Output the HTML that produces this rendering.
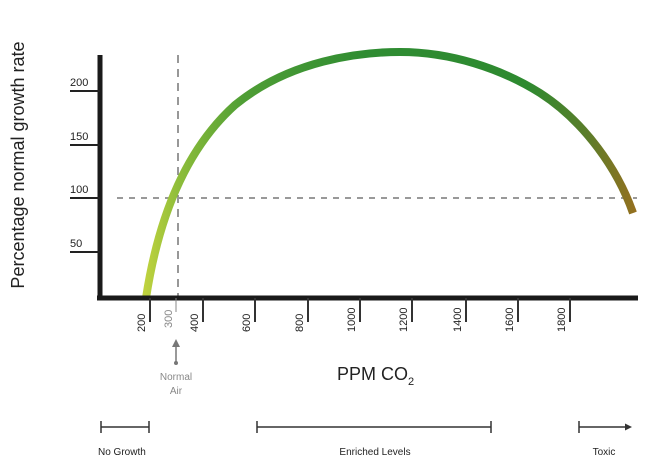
<!DOCTYPE html>
<html><head><style>
html,body{margin:0;padding:0;background:#fff;}
svg{display:block;font-family:"Liberation Sans",sans-serif;}
</style></head><body>
<svg width="667" height="462" viewBox="0 0 667 462">
<defs>
<linearGradient id="g" x1="145" y1="0" x2="635" y2="0" gradientUnits="userSpaceOnUse">
<stop offset="0" stop-color="#bfd23e"/>
<stop offset="0.07" stop-color="#8dbd3a"/>
<stop offset="0.2" stop-color="#4f9e35"/>
<stop offset="0.45" stop-color="#2f8c32"/>
<stop offset="0.78" stop-color="#2e8a30"/>
<stop offset="0.9" stop-color="#5a7d2a"/>
<stop offset="1" stop-color="#94701f"/>
</linearGradient>
</defs>
<line x1="178" y1="55" x2="178" y2="298" stroke="#777" stroke-width="1.5" stroke-dasharray="8,6"/>
<line x1="117" y1="198" x2="637" y2="198" stroke="#999" stroke-width="2" stroke-dasharray="6,6"/>
<path d="M146,298 C158,220 185,150 235,105 C290,60 360,52 400,52 C450,52 500,68 540,93 C585,122 618,170 633,213" fill="none" stroke="url(#g)" stroke-width="8"/>
<line x1="100" y1="55" x2="100" y2="300" stroke="#1a1a1a" stroke-width="5"/>
<line x1="97" y1="298" x2="638" y2="298" stroke="#1a1a1a" stroke-width="5"/>
<g stroke="#222" stroke-width="2">
<line x1="70" y1="91" x2="100" y2="91"/><line x1="70" y1="145" x2="100" y2="145"/>
<line x1="70" y1="198" x2="100" y2="198"/><line x1="70" y1="252" x2="100" y2="252"/>
</g>
<g font-size="11" fill="#222">
<text x="70" y="86">200</text><text x="70" y="140">150</text>
<text x="70" y="193">100</text><text x="70" y="247">50</text>
</g>
<text transform="translate(24,165) rotate(-90)" text-anchor="middle" font-size="18" fill="#222">Percentage normal growth rate</text>
<g stroke="#333" stroke-width="2">
<line x1="150" y1="298" x2="150" y2="322"/><line x1="203" y1="298" x2="203" y2="322"/>
<line x1="255" y1="298" x2="255" y2="322"/><line x1="308" y1="298" x2="308" y2="322"/>
<line x1="360" y1="298" x2="360" y2="322"/><line x1="412" y1="298" x2="412" y2="322"/>
<line x1="466" y1="298" x2="466" y2="322"/><line x1="518" y1="298" x2="518" y2="322"/>
<line x1="570" y1="298" x2="570" y2="322"/>
</g>
<line x1="176" y1="298" x2="176" y2="312" stroke="#888" stroke-width="1"/>
<g font-size="11" fill="#222">
<text transform="translate(145,332) rotate(-90)">200</text>
<text transform="translate(172,328) rotate(-90)" fill="#888">300</text>
<text transform="translate(198,332) rotate(-90)">400</text>
<text transform="translate(250,332) rotate(-90)">600</text>
<text transform="translate(303,332) rotate(-90)">800</text>
<text transform="translate(355,332) rotate(-90)">1000</text>
<text transform="translate(407,332) rotate(-90)">1200</text>
<text transform="translate(461,332) rotate(-90)">1400</text>
<text transform="translate(513,332) rotate(-90)">1600</text>
<text transform="translate(565,332) rotate(-90)">1800</text>
</g>
<line x1="176" y1="362" x2="176" y2="345" stroke="#777" stroke-width="1.5"/>
<polygon points="176,339 172,347 180,347" fill="#777"/>
<circle cx="176" cy="363" r="2" fill="#777"/>
<text x="176" y="380" text-anchor="middle" font-size="10" fill="#888">Normal</text>
<text x="176" y="394" text-anchor="middle" font-size="10" fill="#888">Air</text>
<text x="337" y="380" font-size="18" fill="#222">PPM CO<tspan font-size="11" dy="5">2</tspan></text>
<g stroke="#333" stroke-width="1.5">
<line x1="101" y1="427" x2="149" y2="427"/><line x1="101" y1="421" x2="101" y2="433"/><line x1="149" y1="421" x2="149" y2="433"/>
<line x1="257" y1="427" x2="491" y2="427"/><line x1="257" y1="421" x2="257" y2="433"/><line x1="491" y1="421" x2="491" y2="433"/>
<line x1="579" y1="427" x2="626" y2="427"/><line x1="579" y1="421" x2="579" y2="433"/>
</g>
<polygon points="632,427 625,423.5 625,430.5" fill="#333"/>
<g font-size="10" fill="#222">
<text x="98" y="455">No Growth</text>
<text x="375" y="455" text-anchor="middle">Enriched Levels</text>
<text x="604" y="455" text-anchor="middle">Toxic</text>
</g>
</svg>
</body></html>
